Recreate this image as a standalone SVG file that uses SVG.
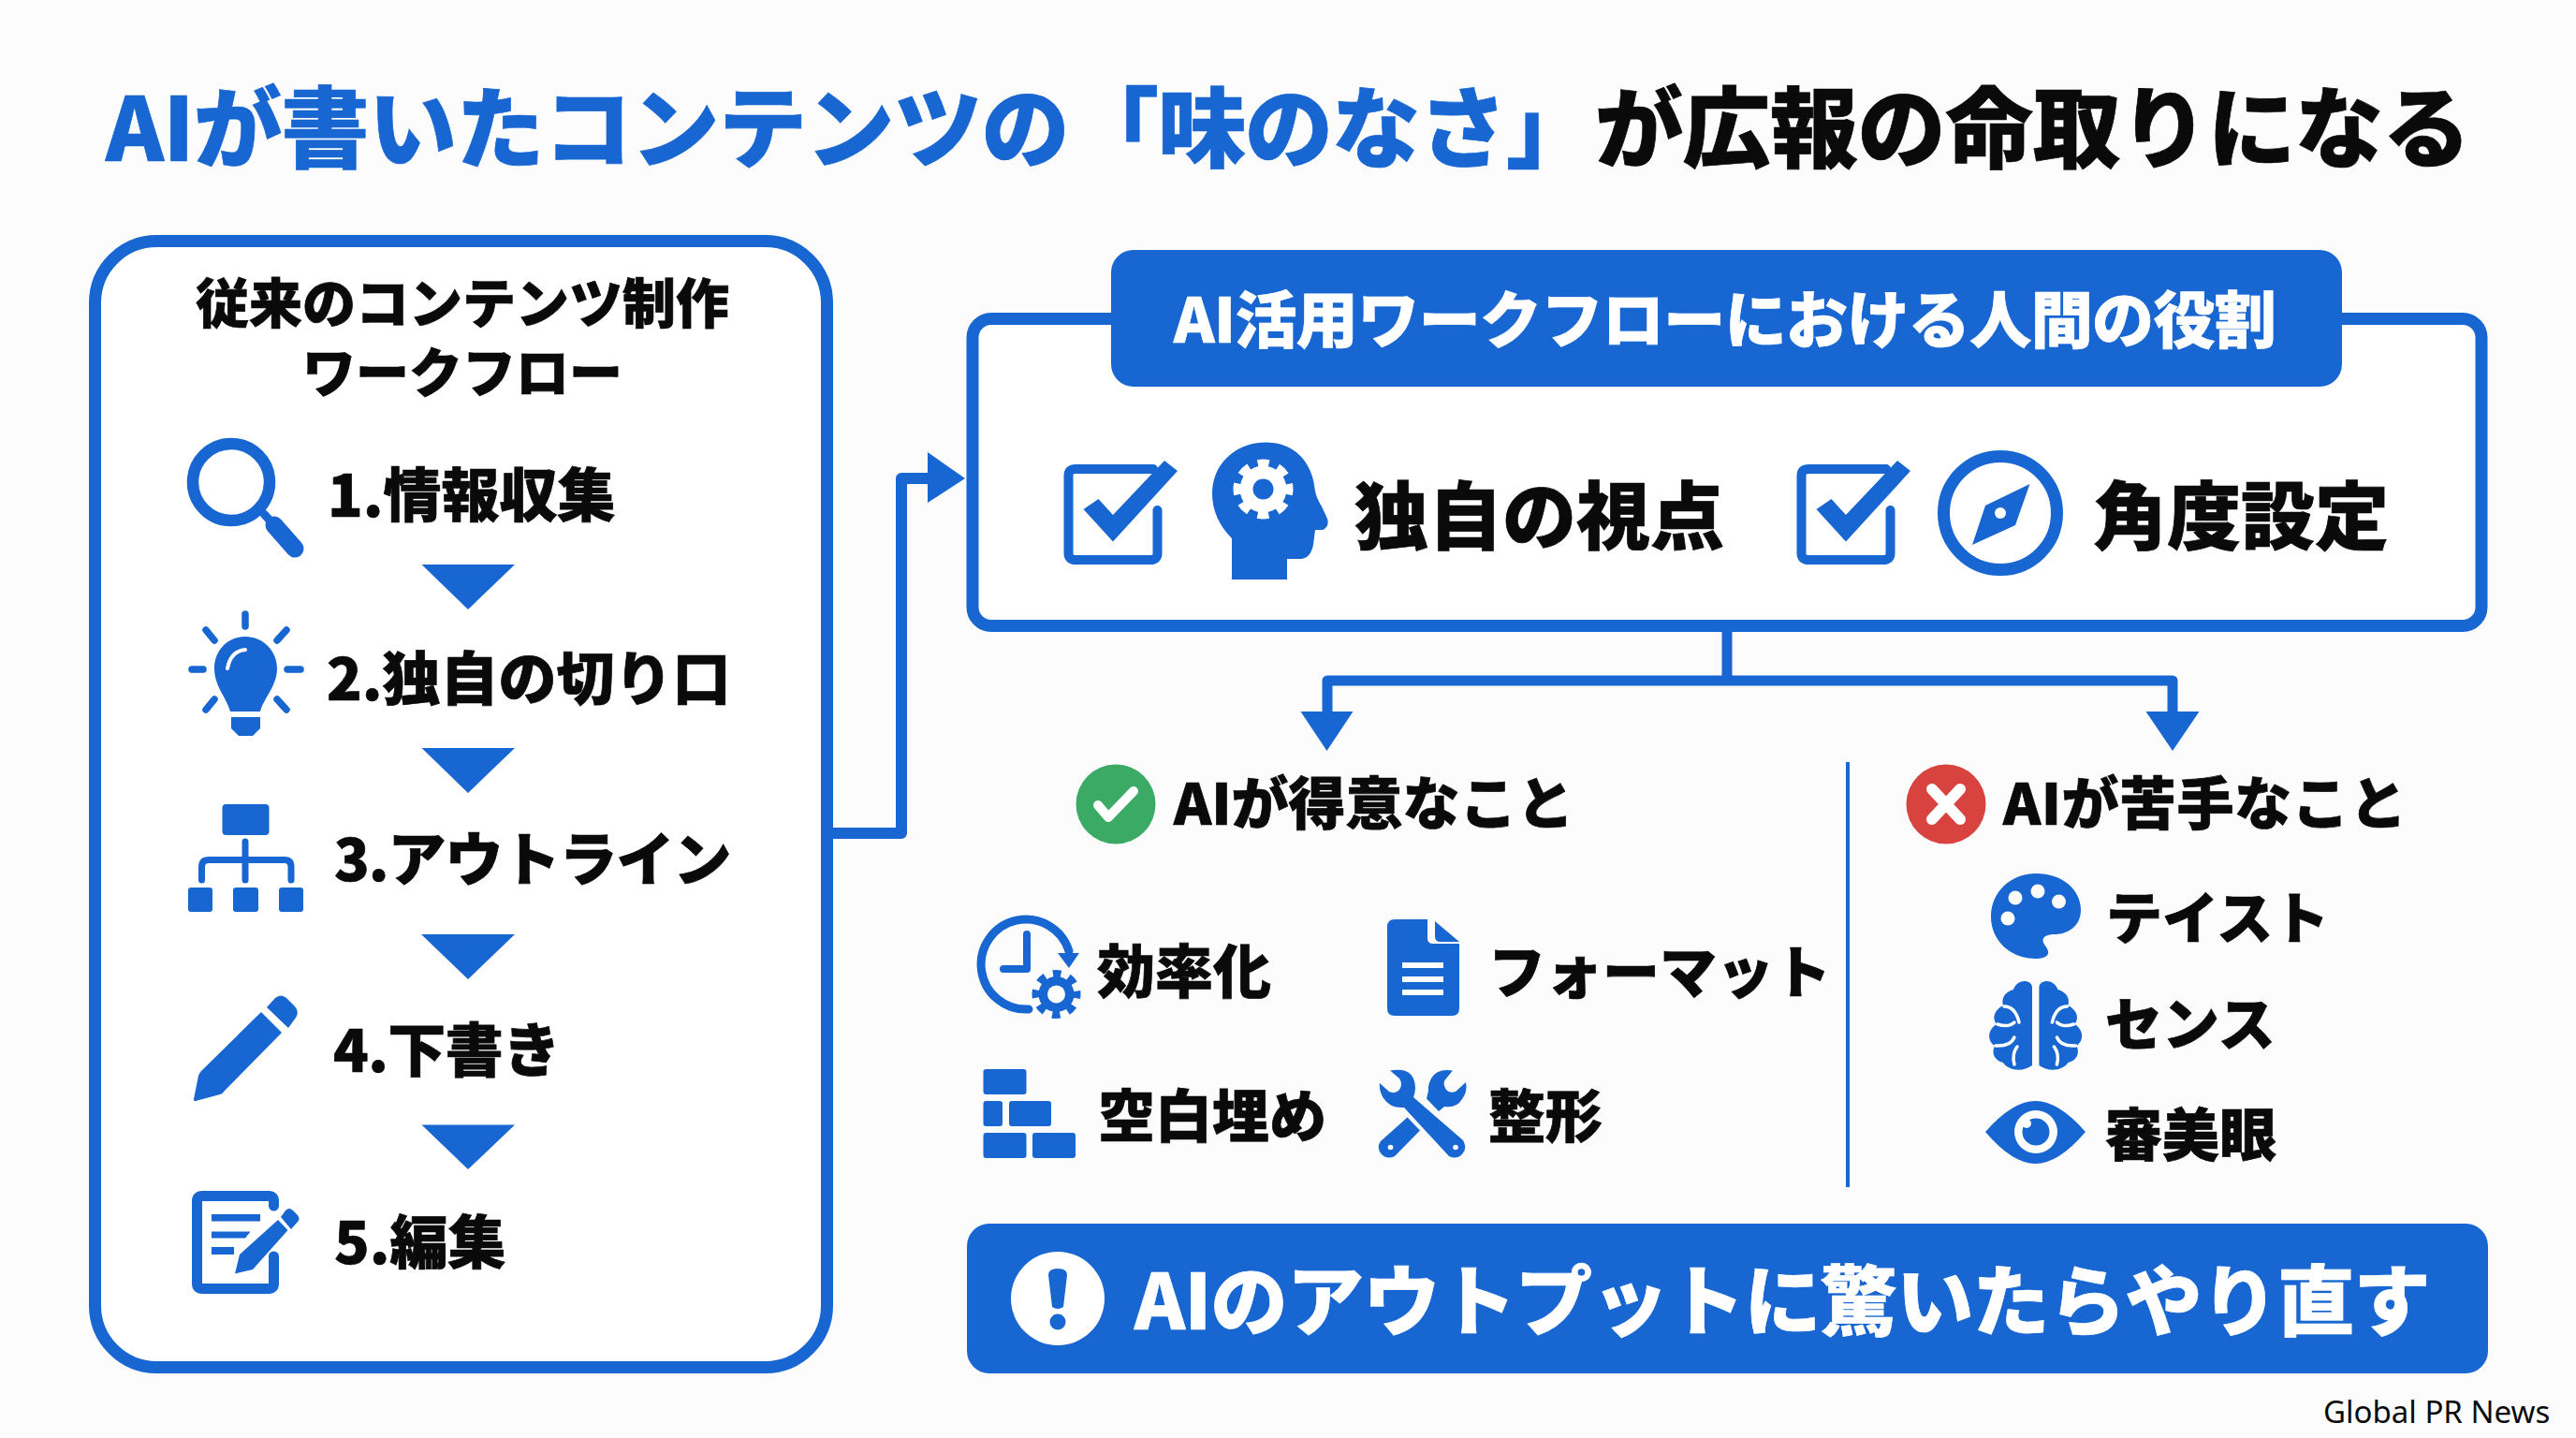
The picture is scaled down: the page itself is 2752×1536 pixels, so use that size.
<svg xmlns="http://www.w3.org/2000/svg" width="2752" height="1536" viewBox="0 0 2752 1536">
<defs>
<style>
text{font-family:"Noto Sans CJK JP","Noto Sans",sans-serif;font-weight:900;fill:#0a0a0a;stroke:#0a0a0a;stroke-width:.7px}
.b{fill:#1766d2}.w{fill:#fff}
.s{fill:none;stroke:#1766d2;stroke-linecap:round;stroke-linejoin:round}
.panel{fill:#fff;stroke:#1766d2;stroke-width:13}
.conn{fill:none;stroke:#1766d2;stroke-width:12;stroke-linejoin:round}
.t61{font-size:61px}.t62{font-size:62px}.t57{font-size:57px;text-anchor:middle}.t79{font-size:79px}
.tw{fill:#fff;stroke:#fff}
.title{font-size:94px;letter-spacing:-.5px}
.tb{fill:#1766d2;stroke:#1766d2}
</style>
</defs>
<rect width="2752" height="1536" fill="#fcfcfc"/>
<g id="title">
<text class="title tb" x="113" y="172">AIが書いたコンテンツの</text>
<text class="title tb" x="1144" y="172" style="letter-spacing:-1px">「味のなさ」</text>
<text class="title" x="1704" y="172">が広報の命取りになる</text>
</g>
<g id="connectors">
<path class="conn" d="M890 890H963V511H995"/>
<path d="M991 483L1031 511L991 537Z" class="b"/>
<path class="conn" style="stroke-width:11" d="M1845 675V727"/>
<path class="conn" style="stroke-width:11" d="M1418 762V727H2321V762"/>
<path d="M1389.500 760L1445.500 760L1417.500 802Z" class="b"/>
<path d="M2292.500 760L2349.500 760L2321 802Z" class="b"/>
<path class="conn" style="stroke-width:4" d="M1974 814V1268"/>
</g>
<g id="flow-panel">
<rect class="panel" x="101.500" y="257.500" width="782" height="1203" rx="66" ry="66"/>
<text class="t57" x="494" y="345">従来のコンテンツ制作</text>
<text class="t57" x="494" y="419">ワークフロー</text>
</g>
<g id="step-1">
<circle class="s" cx="247" cy="515" r="41" stroke-width="12.500"/>
<path class="s" d="M282 549L292 560" stroke-width="9"/>
<path class="s" d="M293 561L315 586" stroke-width="19"/>
<text class="t62" x="350" y="552">1.情報収集</text>
</g>
<path id="flow-arrow-1" class="b" d="M450.500 603H550L500 651Z"/>
<g id="step-2">
<path class="s" stroke-width="7.500" d="M262 656V669M220 673L229 684M306 673L296 684M205 715H217M307 715H321M229 747L220 758M296 747L306 758"/>
<path class="b" d="M262 680C243 680 229 695 229 714C229 733 242 745 246 760H278C282 745 296 733 296 714C296 695 281 680 262 680Z"/>
<path class="b" d="M247 766H278V778L270 786H255L247 778Z"/>
<path d="M262 694C251 695 245 703 243 714" fill="none" stroke="#fff" stroke-width="4" stroke-linecap="round"/>
<text class="t62" x="349" y="748">2.独自の切り口</text>
</g>
<path id="flow-arrow-2" class="b" d="M450.500 799H550L500 847Z"/>
<g id="step-3">
<rect class="b" x="237.500" y="859" width="50" height="33" rx="4"/>
<path class="s" stroke-linecap="butt" stroke-width="7" d="M262 899V940M215.500 940V926Q215.500 918.500 223 918.500H304Q311 918.500 311 926V940"/>
<rect class="b" x="201" y="948" width="26" height="26" rx="3"/>
<rect class="b" x="249" y="948" width="27" height="26" rx="3"/>
<rect class="b" x="298" y="948" width="26" height="26" rx="3"/>
<text class="t62" x="357" y="941" style="letter-spacing:-1px">3.アウトライン</text>
</g>
<path id="flow-arrow-3" class="b" d="M450 998H550L500 1046Z"/>
<g id="step-4">
<path class="b" d="M279 1081L301 1103L240 1165Q238 1168 235 1169L209 1176Q207 1177 207 1174L212 1149Q213 1146 215 1144Z"/>
<path class="b" d="M285 1076L294 1066Q300 1061 306 1066L315 1075Q320 1081 316 1087L308 1098Z"/>
<text class="t62" x="356" y="1145" style="letter-spacing:-.6px">4.下書き</text>
</g>
<path id="flow-arrow-4" class="b" d="M450.500 1201.500H550L500 1249Z"/>
<g id="step-5">
<path class="s" stroke-width="11" stroke-linecap="butt" d="M292.500 1288V1283Q292.500 1277.500 287 1277.500H216Q210.500 1277.500 210.500 1283V1371Q210.500 1376.500 216 1376.500H287Q292.500 1376.500 292.500 1371V1342"/>
<path class="b" d="M226 1297H278V1304.500H226ZM226 1315.500H267.500L262 1322.500H226ZM226 1332H250V1340H226Z"/>
<path class="b" d="M297 1303L307.500 1314L270 1356L251 1360.500L256 1340Z"/>
<path class="b" d="M300 1300L305 1293Q309 1289 313 1293L318 1298Q321 1302 318 1305L311 1313Z"/>
<text class="t62" x="357" y="1350">5.編集</text>
</g>
<g id="roles">
<rect class="panel" x="1039" y="340.500" width="1612" height="328" rx="20" ry="20"/>
<rect class="b" x="1187" y="267" width="1315" height="146" rx="24"/>
<text class="tw" x="1254" y="366" font-size="66" style="letter-spacing:-.6px">AI活用ワークフローにおける人間の役割</text>
</g>
<g id="role-perspective">
<path class="s" stroke-width="10" stroke-linecap="butt" d="M1232 501H1149Q1141.500 501 1141.500 508V591Q1141.500 598 1149 598H1229Q1236.500 598 1236.500 591V545"/>
<path class="b" d="M1157.500 544L1173.500 533L1189 550L1244 492L1258 503L1189 578.500Z"/>
<path class="b" d="M1316 619V575C1303 562 1295 546 1295 527C1295 496 1320 472.500 1352 472.500C1382 472.500 1400 492 1404 518C1405 527 1407 533 1412 541L1418 554C1420 560 1417 566 1411 566H1405L1403 582C1401 592 1396 597 1389 597H1375V619Z"/>
<circle cx="1349.500" cy="522.500" r="25" fill="#fff"/>
<circle cx="1349.500" cy="522.500" r="28" fill="none" stroke="#fff" stroke-width="8" stroke-dasharray="12 9.990" stroke-dashoffset="6"/>
<circle cx="1349.500" cy="522.500" r="11" class="b"/>
<text class="t79" x="1447" y="581">独自の視点</text>
</g>
<g id="role-angle">
<path class="s" stroke-width="10" stroke-linecap="butt" d="M2015 501H1932Q1924.500 501 1924.500 508V591Q1924.500 598 1932 598H2012Q2019.500 598 2019.500 591V545"/>
<path class="b" d="M1940.500 544L1956.500 533L1972 550L2027 492L2041 503L1972 578.500Z"/>
<circle class="s" cx="2137" cy="548" r="60.500" stroke-width="13"/>
<path class="b" d="M2168.500 517L2153 561L2107 582L2121 540Z"/>
<circle cx="2137" cy="548" r="6" class="w"/>
<text class="t79" x="2236" y="581">角度設定</text>
</g>
<g id="ai-good">
<circle cx="1192" cy="859" r="42.500" fill="#3aaa64"/>
<path d="M1173 860L1184 873L1211 845" fill="none" stroke="#fff" stroke-width="10" stroke-linecap="round" stroke-linejoin="round"/>
<text class="t61" x="1254" y="881">AIが得意なこと</text>
</g>
<g id="ai-bad">
<circle cx="2079" cy="859" r="42.500" fill="#d9433f"/>
<path d="M2064 843L2094 875M2094 843L2064 875" fill="none" stroke="#fff" stroke-width="12" stroke-linecap="round"/>
<text class="t61" x="2140" y="881" style="letter-spacing:.5px">AIが苦手なこと</text>
</g>
<g id="good-efficiency">
<path class="s" stroke-width="9" d="M1099 1078A48 48 0 1 1 1142 1016"/>
<path class="b" d="M1130 1018H1153L1142 1034Z"/>
<path class="s" stroke-width="8" d="M1097 998V1035H1072"/>
<circle cx="1128.500" cy="1062" r="19" class="b"/>
<circle cx="1128.500" cy="1062" r="22" fill="none" stroke="#1766d2" stroke-width="8" stroke-dasharray="8.640 8.640" stroke-dashoffset="4.320"/>
<circle cx="1128.500" cy="1062" r="9.500" class="w"/>
<text class="t62" x="1172" y="1061">効率化</text>
</g>
<g id="good-format">
<path class="b" d="M1490 982H1525V1002Q1525 1008 1531 1008H1559V1077Q1559 1085 1551 1085H1490Q1482 1085 1482 1077V990Q1482 982 1490 982Z"/>
<path class="b" d="M1533 984L1559 1006H1539Q1533 1006 1533 1000Z"/>
<path class="w" d="M1498 1028H1542V1034H1498ZM1498 1043H1542V1049H1498ZM1498 1057H1542V1063H1498Z"/>
<text class="t61" x="1590" y="1061">フォーマット</text>
</g>
<g id="good-fill">
<rect class="b" x="1050.500" y="1142" width="46" height="27" rx="3"/>
<rect class="b" x="1050.500" y="1176" width="20.500" height="27" rx="3"/>
<rect class="b" x="1078" y="1176" width="45" height="27" rx="3"/>
<rect class="b" x="1050.500" y="1210" width="46" height="27" rx="3"/>
<rect class="b" x="1103" y="1210" width="46" height="27" rx="3"/>
<text class="t61" x="1173" y="1215">空白埋め</text>
</g>
<g id="good-shape">
<path class="b" d="M1552 1143.500Q1535 1141 1529 1152Q1525 1160 1526 1165L1524 1173.500L1537 1187L1543 1182Q1556 1184 1562 1174Q1568 1166 1566 1156L1555 1166Q1548 1168 1545 1164Q1540 1156 1545 1152Z"/>
<path class="b" d="M1503.500 1193.500L1517 1207.500L1490 1235Q1482 1239 1476 1233Q1470 1226 1475 1219Z"/>
<path class="b" d="M1485 1143.500Q1505 1140 1510 1152Q1514 1162 1510 1172L1563 1218Q1568 1227 1562 1233Q1556 1239 1548 1235L1500 1183Q1485 1184 1478 1173Q1473 1165 1474 1157L1484 1166Q1491 1169 1495 1164Q1499 1158 1495 1152Z"/>
<circle cx="1485.500" cy="1225.500" r="2.800" class="w"/>
<circle cx="1555" cy="1225.500" r="2.800" class="w"/>
<text class="t61" x="1590" y="1215">整形</text>
</g>
<g id="bad-taste">
<path class="b" d="M2175 933C2203 933 2223 950 2223 972C2223 990 2208 998 2195 998C2186 998 2181 1001 2183 1007C2186 1012 2189 1015 2188 1019C2186 1023 2180 1024 2175 1024C2148 1024 2127 1005 2127 979C2127 953 2148 933 2175 933Z"/>
<circle cx="2153" cy="959" r="7.500" class="w"/>
<circle cx="2177" cy="952" r="7.500" class="w"/>
<circle cx="2199.500" cy="963" r="7.500" class="w"/>
<circle cx="2145" cy="981" r="7.500" class="w"/>
<text font-size="60" x="2250" y="1003">テイスト</text>
</g>
<g id="bad-sense">
<path class="b" d="M2171 1054C2170 1046 2155 1045 2151 1057C2141 1060 2138 1067 2140 1074C2130 1079 2128 1088 2133 1094C2123 1100 2123 1112 2131 1117C2127 1125 2131 1133 2140 1135C2145 1143 2160 1146 2171 1138Z"/>
<path d="M2141 1075Q2153 1075 2157 1092M2134 1094Q2146 1098 2152 1092M2132 1117Q2148 1118 2152 1108M2155 1118Q2149 1126 2152 1137" fill="none" stroke="#fff" stroke-width="3.500" stroke-linecap="round"/>
<g transform="translate(4349.400 0) scale(-1 1)">
<path class="b" d="M2171 1054C2170 1046 2155 1045 2151 1057C2141 1060 2138 1067 2140 1074C2130 1079 2128 1088 2133 1094C2123 1100 2123 1112 2131 1117C2127 1125 2131 1133 2140 1135C2145 1143 2160 1146 2171 1138Z"/>
<path d="M2141 1075Q2153 1075 2157 1092M2134 1094Q2146 1098 2152 1092M2132 1117Q2148 1118 2152 1108M2155 1118Q2149 1126 2152 1137" fill="none" stroke="#fff" stroke-width="3.500" stroke-linecap="round"/>
</g>
<text font-size="61" x="2249" y="1117">センス</text>
</g>
<g id="bad-eye">
<path class="b" d="M2121 1209Q2150 1176 2174.500 1176Q2199 1176 2228 1209Q2199 1243 2174.500 1243Q2150 1243 2121 1209Z"/>
<circle cx="2175" cy="1209" r="23" class="w"/>
<circle cx="2175" cy="1209" r="14.500" class="b"/>
<circle cx="2165" cy="1200" r="5" class="w"/>
<text font-size="61" x="2249" y="1235">審美眼</text>
</g>
<g id="banner">
<rect class="b" x="1033" y="1307" width="1625" height="160" rx="24"/>
<circle cx="1130" cy="1387" r="50" class="w"/>
<path class="b" d="M1120 1362Q1120 1355 1130 1355Q1140 1355 1140 1362L1136 1396Q1130 1400 1124 1396Z"/>
<circle cx="1130" cy="1412" r="8.500" class="b"/>
<text class="tw" x="1212" y="1420" font-size="82" style="letter-spacing:-.6px">AIのアウトプットに驚いたらやり直す</text>
</g>
<text id="credit" x="2482" y="1520" font-size="33" style="font-family:'Noto Sans',sans-serif;font-weight:400;stroke:none">Global PR News</text>
</svg>
